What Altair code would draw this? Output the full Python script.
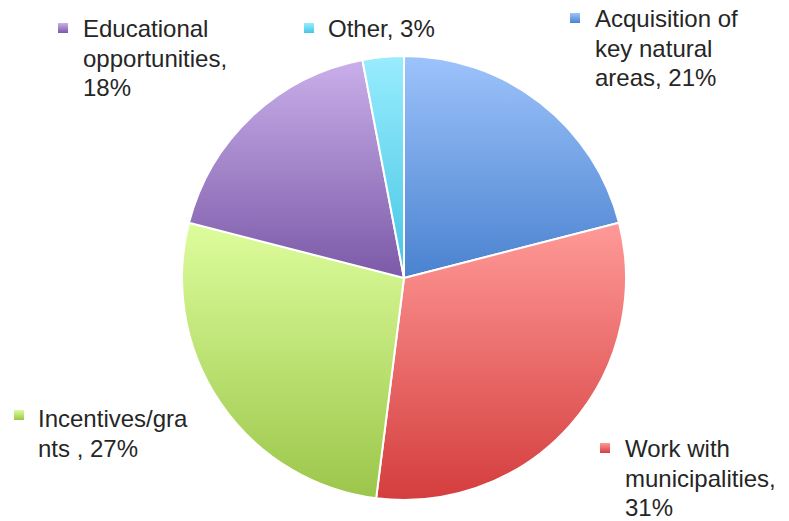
import altair as alt
import pandas as pd

# Data
categories = ["Acquisition of key natural areas", "Work with municipalities",
              "Incentives/grants", "Educational opportunities", "Other"]
values = [21, 31, 27, 18, 3]
label_texts = [
    "Acquisition of\nkey natural\nareas, 21%",
    "Work with\nmunicipalities,\n31%",
    "Incentives/gra\nnts , 27%",
    "Educational\nopportunities,\n18%",
    "Other, 3%",
]

# Styling (gradient colours: top, bottom)
grad_top = ["#9dc3fb", "#ff9a98", "#ddfd9c", "#c9afea", "#98ecfd"]
grad_bot = ["#4a82cf", "#d43d3d", "#9bc64a", "#7b59a7", "#45c6e4"]

# Layout of labels (plot coordinates, top padding 5): text anchor and legend square
text_x = [587, 617, 30, 75, 320]
text_y = [14, 444, 414, 24, 24]
sq_x = [567, 597, 11, 55, 301]
sq_y = [5, 435, 402, 15, 15]

df = pd.DataFrame({"category": categories, "value": values, "order": range(5),
                   "label": label_texts, "tx": text_x, "ty": text_y,
                   "sx": sq_x, "sy": sq_y})

CX, CY, R = 396, 265, 222

base = alt.Chart(df).transform_window(
    cum="sum(value)", sort=[alt.SortField("order")]
).transform_calculate(start="datum.cum - datum.value")

theta_scale = alt.Scale(domain=[0, 100], range=[0, 6.283185307])

def grad(i):
    return alt.Gradient(gradient="linear", x1=0, y1=0, x2=0, y2=1,
                        stops=[alt.GradientStop(offset=0, color=grad_top[i]),
                               alt.GradientStop(offset=1, color=grad_bot[i])])

layers = []
for i, cat in enumerate(categories):
    arc = base.transform_filter(alt.datum.category == cat).mark_arc(
        outerRadius=R, fill=grad(i), stroke="white", strokeWidth=2
    ).encode(
        theta=alt.Theta("start:Q", scale=theta_scale),
        theta2="cum:Q",
        x=alt.value(CX), y=alt.value(CY),
    )
    sq = alt.Chart(df).transform_filter(alt.datum.category == cat).mark_square(
        size=100, fill=grad(i), opacity=1
    ).encode(
        x=alt.X("sx:Q", scale=None), y=alt.Y("sy:Q", scale=None)
    )
    layers += [arc, sq]

txt = alt.Chart(df).mark_text(
    align="left", baseline="alphabetic", font="Liberation Sans", fontSize=24,
    lineBreak="\n", lineHeight=29.5, color="#262626"
).encode(
    x=alt.X("tx:Q", scale=None), y=alt.Y("ty:Q", scale=None), text="label:N"
)
layers.append(txt)

chart = alt.layer(*layers).properties(
    width=773, height=508,
    padding={"top": 5, "left": 0, "right": 0, "bottom": 0}, autosize="none"
).configure_view(stroke=None).configure_axis(disable=True)

chart.save("out.html", embed_options={"renderer": "svg", "actions": False})
